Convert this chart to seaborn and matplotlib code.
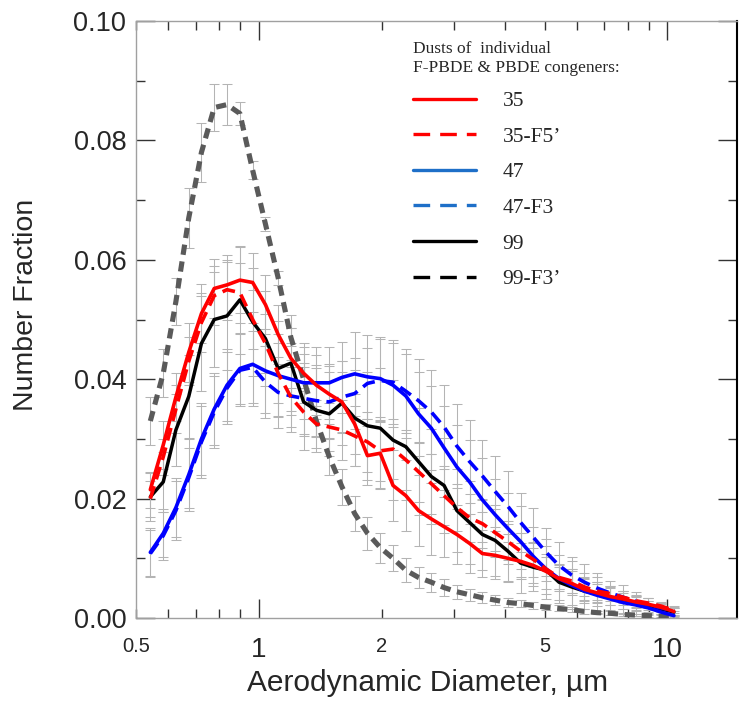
import numpy as np
import pandas as pd
import matplotlib
matplotlib.use("Agg")
import matplotlib.pyplot as plt
from matplotlib.lines import Line2D
import seaborn as sns

# APS size-bin midpoints (aerodynamic diameter, um)
diameter = [0.542, 0.583, 0.626, 0.673, 0.723, 0.777, 0.835, 0.898, 0.965, 1.037,
            1.114, 1.197, 1.286, 1.382, 1.486, 1.596, 1.715, 1.843, 1.981, 2.129,
            2.288, 2.458, 2.642, 2.839, 3.051, 3.278, 3.523, 3.786, 4.068, 4.371,
            4.698, 5.048, 5.425, 5.829, 6.264, 6.732, 7.234, 7.774, 8.354, 8.977,
            9.647, 10.37]

# number fraction
pbde35 = [0.0215, 0.0290, 0.0370, 0.0445, 0.0510, 0.0552, 0.0558, 0.0566, 0.0562, 0.0525,
          0.0475, 0.0435, 0.0410, 0.0390, 0.0375, 0.0362, 0.0325, 0.0272, 0.0276, 0.0222,
          0.0205, 0.0180, 0.0166, 0.0153, 0.0140, 0.0125, 0.0108, 0.0105, 0.0100, 0.0095,
          0.0088, 0.0078, 0.0066, 0.0058, 0.0048, 0.0042, 0.0036, 0.0032, 0.0027, 0.0023,
          0.0018, 0.0011]
fpbde35 = [0.0200, 0.0270, 0.0350, 0.0430, 0.0495, 0.0540, 0.0550, 0.0545, 0.0500, 0.0460,
           0.0410, 0.0370, 0.0345, 0.0325, 0.0320, 0.0315, 0.0305, 0.0295, 0.0280, 0.0283,
           0.0265, 0.0245, 0.0225, 0.0205, 0.0185, 0.0168, 0.0158, 0.0143, 0.0128, 0.0112,
           0.0098, 0.0082, 0.0068, 0.0062, 0.0052, 0.0045, 0.0041, 0.0035, 0.0029, 0.0025,
           0.0020, 0.0013]
pbde47 = [0.0110, 0.0142, 0.0185, 0.0240, 0.0300, 0.0350, 0.0390, 0.0418, 0.0425, 0.0414,
          0.0406, 0.0400, 0.0394, 0.0394, 0.0394, 0.0403, 0.0409, 0.0404, 0.0401, 0.0390,
          0.0372, 0.0342, 0.0318, 0.0285, 0.0253, 0.0228, 0.0198, 0.0173, 0.0150, 0.0128,
          0.0103, 0.0082, 0.0066, 0.0055, 0.0045, 0.0038, 0.0032, 0.0026, 0.0022, 0.0017,
          0.0010, 0.0004]
fpbde47 = [0.0108, 0.0138, 0.0180, 0.0235, 0.0295, 0.0345, 0.0385, 0.0415, 0.0420, 0.0395,
           0.0378, 0.0372, 0.0368, 0.0364, 0.0362, 0.0370, 0.0376, 0.0393, 0.0398, 0.0395,
           0.0380, 0.0364, 0.0345, 0.0320, 0.0288, 0.0262, 0.0238, 0.0212, 0.0187, 0.0160,
           0.0135, 0.0110, 0.0088, 0.0072, 0.0060, 0.0050, 0.0042, 0.0035, 0.0028, 0.0022,
           0.0017, 0.0012]
pbde99 = [0.0203, 0.0228, 0.0315, 0.0371, 0.0460, 0.0500, 0.0506, 0.0533, 0.0496, 0.0468,
          0.0418, 0.0427, 0.0362, 0.0348, 0.0342, 0.0360, 0.0335, 0.0322, 0.0318, 0.0298,
          0.0287, 0.0262, 0.0237, 0.0222, 0.0180, 0.0160, 0.0140, 0.0130, 0.0112, 0.0092,
          0.0085, 0.0080, 0.0060, 0.0052, 0.0045, 0.0040, 0.0034, 0.0030, 0.0024, 0.0019,
          0.0015, 0.0010]
fpbde99 = [0.0330, 0.0410, 0.0530, 0.0670, 0.0780, 0.0855, 0.0860, 0.0845, 0.0750, 0.0660,
           0.0570, 0.0470, 0.0400, 0.0330, 0.0270, 0.0220, 0.0175, 0.0142, 0.0118, 0.0100,
           0.0080, 0.0068, 0.0060, 0.0051, 0.0044, 0.0039, 0.0034, 0.0030, 0.0026, 0.0024,
           0.0021, 0.0018, 0.0016, 0.0014, 0.0011, 0.0009, 0.0008, 0.0006, 0.0005, 0.0004,
           0.0003, 0.0003]

# error bars (+/-)
err35 = [0.003, 0.004, 0.004, 0.005, 0.005, 0.005, 0.005, 0.0055, 0.005, 0.005,
         0.005, 0.005, 0.005, 0.005, 0.005, 0.005, 0.005, 0.005, 0.006, 0.006,
         0.006, 0.006, 0.006, 0.005, 0.005, 0.005, 0.004, 0.004, 0.004, 0.003,
         0.003, 0.003, 0.002, 0.002, 0.002, 0.0015, 0.0015, 0.001, 0.001, 0.001,
         0.0008, 0.0006]
err35f = [0.003, 0.003, 0.004, 0.004, 0.005, 0.005, 0.005, 0.005, 0.005, 0.005,
          0.005, 0.005, 0.004, 0.004, 0.004, 0.005, 0.005, 0.005, 0.005, 0.005,
          0.005, 0.005, 0.005, 0.005, 0.004, 0.004, 0.004, 0.004, 0.003, 0.003,
          0.003, 0.002, 0.002, 0.002, 0.0015, 0.0015, 0.0012, 0.001, 0.001, 0.0008,
          0.0006, 0.0005]
err47 = [0.004, 0.004, 0.005, 0.006, 0.006, 0.006, 0.006, 0.006, 0.007, 0.007,
         0.007, 0.006, 0.006, 0.006, 0.006, 0.006, 0.007, 0.007, 0.007, 0.007,
         0.007, 0.007, 0.007, 0.007, 0.007, 0.007, 0.007, 0.006, 0.006, 0.006,
         0.005, 0.005, 0.004, 0.004, 0.003, 0.003, 0.002, 0.002, 0.0015, 0.0012,
         0.001, 0.0008]
err47f = [0.004, 0.004, 0.005, 0.005, 0.006, 0.006, 0.006, 0.006, 0.006, 0.006,
          0.006, 0.006, 0.006, 0.006, 0.006, 0.006, 0.006, 0.006, 0.007, 0.007,
          0.007, 0.007, 0.007, 0.007, 0.007, 0.007, 0.006, 0.006, 0.006, 0.005,
          0.005, 0.004, 0.004, 0.003, 0.003, 0.0025, 0.002, 0.002, 0.0015, 0.0012,
          0.001, 0.0008]
err99 = [0.004, 0.005, 0.006, 0.007, 0.008, 0.008, 0.009, 0.009, 0.009, 0.008,
         0.008, 0.008, 0.008, 0.007, 0.007, 0.007, 0.008, 0.009, 0.010, 0.010,
         0.009, 0.009, 0.008, 0.008, 0.007, 0.007, 0.006, 0.006, 0.005, 0.005,
         0.004, 0.004, 0.003, 0.003, 0.002, 0.002, 0.002, 0.0015, 0.0012, 0.001,
         0.0008, 0.0006]
err99f = [0.004, 0.004, 0.004, 0.005, 0.005, 0.004, 0.0035, 0.002, 0.0015, 0.0012,
          0.0012, 0.0015, 0.002, 0.0025, 0.003, 0.003, 0.003, 0.0028, 0.0025, 0.0022,
          0.002, 0.0018, 0.0016, 0.0014, 0.0012, 0.001, 0.0009, 0.0008, 0.0007, 0.0006,
          0.0006, 0.0005, 0.0005, 0.0004, 0.0004, 0.0003, 0.0003, 0.0003, 0.0002, 0.0002,
          0.0002, 0.0002]

legend_labels = ['35', '35-F5\u2019', '47', '47-F3', '99', '99-F3\u2019']
legend_colors = ['#ff0000', '#ff0000', '#1e6fc8', '#1e6fc8', '#000000', '#000000']

xtick_major = [1, 10]
xtick_minor = [0.5, 0.6, 0.7, 0.8, 0.9, 2, 3, 4, 5, 6, 7, 8, 9]
xtick_minor_labels = ['0.5', '', '', '', '', '2', '', '', '5', '', '', '', '']
ytick_major = [0.0, 0.02, 0.04, 0.06, 0.08, 0.10]
ytick_minor = [0.01, 0.03, 0.05, 0.07, 0.09]

sns.set_style("ticks")
plt.rcParams['font.family'] = ['Liberation Sans', 'DejaVu Sans']

fig = plt.figure(figsize=(7.49, 7.22), dpi=100)
ax = fig.add_axes([0.1816, 0.144, 0.8024, 0.8269])

dash_col = (0, (3.6, 2.0))
dash_gray = (0, (2.0, 1.3))
# name, values, errors, colour, linestyle, width  (drawing order)
series = [
    ('99-F3\u2019', fpbde99, err99f, '#5a5a5a', dash_gray, 3.7),
    ('99', pbde99, err99, '#000000', '-', 2.5),
    ('47-F3', fpbde47, err47f, '#0000ff', dash_col, 2.6),
    ('47', pbde47, err47, '#0000ff', '-', 2.6),
    ('35-F5\u2019', fpbde35, err35f, '#ff0000', dash_col, 2.6),
    ('35', pbde35, err35, '#ff0000', '-', 2.6),
]

for name, vals, errs, color, ls, lw in series:
    ax.errorbar(diameter, vals, yerr=errs, fmt='none', ecolor='#b4b4b4',
                elinewidth=0.75, capsize=3.8, capthick=0.75, zorder=1)

for i, (name, vals, errs, color, ls, lw) in enumerate(series):
    df = pd.DataFrame({'diameter': diameter, 'fraction': vals})
    sns.lineplot(data=df, x='diameter', y='fraction', color=color, linestyle=ls,
                 linewidth=lw, errorbar=None, ax=ax, zorder=3 + i)

ax.set_xscale('log')
ax.set_xlim(0.5, 14.8)
ax.set_ylim(0, 0.10)
ax.set_xticks(xtick_major, labels=[str(t) for t in xtick_major])
ax.set_xticks(xtick_minor, labels=xtick_minor_labels, minor=True)
ax.set_yticks(ytick_major, labels=['%.2f' % t for t in ytick_major])
ax.set_yticks(ytick_minor, minor=True)

ax.tick_params(axis='both', which='both', direction='in', top=True, right=True,
               color='#333333', width=1)
ax.tick_params(which='major', length=13.5)
ax.tick_params(which='minor', length=6.5)
ax.tick_params(axis='x', which='major', labelsize=20, pad=14)
ax.tick_params(axis='x', which='minor', labelsize=14.5, pad=14)
ax.tick_params(axis='y', which='major', labelsize=19.5, pad=7)

for side in ['left', 'top', 'bottom']:
    ax.spines[side].set_color('#a0a0a0')
    ax.spines[side].set_linewidth(1)
ax.spines['right'].set_color('black')
ax.spines['right'].set_linewidth(1.5)

ax.set_xlabel('Aerodynamic Diameter, \u00b5m', fontsize=21.5)
ax.xaxis.set_label_coords(0.485, -0.085)
ax.set_ylabel('Number Fraction', fontsize=20.5)
ax.yaxis.set_label_coords(-0.161, 0.524)

handles = []
for lab, col in zip(legend_labels, legend_colors):
    ls = (0, (5, 3)) if '-' in lab else '-'
    handles.append(Line2D([], [], color=col, lw=2.4, linestyle=ls))
ax.legend(handles, legend_labels,
          title='Dusts of  individual\nF-PBDE & PBDE congeners:',
          loc='upper left', bbox_to_anchor=(0.461, 0.966), frameon=False,
          prop={'family': 'Liberation Serif', 'size': 15.5},
          title_fontproperties={'family': 'Liberation Serif', 'size': 12.5},
          alignment='left', handlelength=2.9, handletextpad=1.25,
          labelspacing=0.72, borderpad=0, borderaxespad=0)

fig.savefig('out.png', dpi=100)
